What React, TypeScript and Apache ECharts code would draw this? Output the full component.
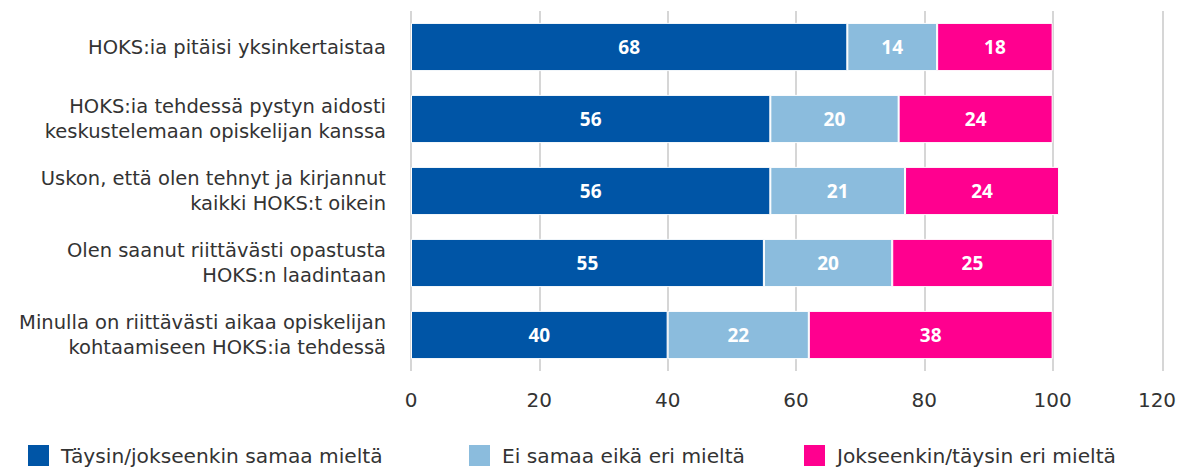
import React, { useEffect, useRef } from "react";
import * as echarts from "echarts";

const categories = [
  "HOKS:ia pitäisi yksinkertaistaa",
  "HOKS:ia tehdessä pystyn aidosti\nkeskustelemaan opiskelijan kanssa",
  "Uskon, että olen tehnyt ja kirjannut\nkaikki HOKS:t oikein",
  "Olen saanut riittävästi opastusta\nHOKS:n laadintaan",
  "Minulla on riittävästi aikaa opiskelijan\nkohtaamiseen HOKS:ia tehdessä",
];
const seriesNames = [
  "Täysin/jokseenkin samaa mieltä",
  "Ei samaa eikä eri mieltä",
  "Jokseenkin/täysin eri mieltä",
];
const agree = [68, 56, 56, 55, 40];
const neutral = [14, 20, 21, 20, 22];
const disagree = [18, 24, 24, 25, 38];
const xTickLabels = ["0", "20", "40", "60", "80", "100", "120"];
const colors = ["#0055a6", "#8bbcdd", "#ff008f"];

const FONT = "'DejaVu Sans', sans-serif";
const BOLD_FONT = "'Open Sans', sans-serif";
const TEXT_COLOR = "#333333";

export default function App() {
  const ref = useRef<HTMLDivElement>(null);
  useEffect(() => {
    document.body.style.margin = "0";
    if (!ref.current) return;
    const chart = echarts.init(ref.current, null, { renderer: "svg" });
    const values = [agree, neutral, disagree];
    const legendLefts = [26, 467, 802];
    chart.setOption({
      animation: false,
      textStyle: { fontFamily: FONT },
      grid: {
        left: 411,
        right: 16,
        top: 11,
        height: 360,
        containLabel: false,
        outerBoundsMode: "none",
      },
      legend: seriesNames.map((n, i) => ({
        data: [n],
        left: legendLefts[i],
        top: 443,
        padding: 0,
        itemWidth: 23,
        itemHeight: 23,
        itemGap: 0,
        icon: "rect",
        textStyle: { fontSize: 20.2, color: TEXT_COLOR, fontFamily: FONT, padding: [0, 0, 0, 6] },
      })),
      xAxis: {
        type: "value",
        min: 0,
        max: 117.2,
        interval: 20,
        axisLine: { show: false },
        axisTick: { show: false },
        splitLine: { show: true, lineStyle: { color: "#c9c9c9", width: 1.5 } },
        axisLabel: {
          fontSize: 20,
          color: TEXT_COLOR,
          fontFamily: FONT,
          margin: 19,
          showMaxLabel: true,
          formatter: (_v: number, idx: number) => {
            const t = xTickLabels[idx] ?? "";
            return idx === xTickLabels.length - 1 ? `{m|${t}}` : t;
          },
          rich: {
            m: { fontSize: 20, color: TEXT_COLOR, fontFamily: FONT, padding: [0, 12, 0, 0] },
          },
        },
      },
      yAxis: {
        type: "category",
        data: categories,
        inverse: true,
        axisLine: { show: false },
        axisTick: { show: false },
        axisLabel: {
          fontSize: 19.5,
          color: TEXT_COLOR,
          fontFamily: FONT,
          margin: 25,
          align: "right",
          lineHeight: 25,
        },
      },
      series: seriesNames.map((name, i) => ({
        name,
        type: "bar",
        stack: "total",
        data: values[i],
        barCategoryGap: "33%",
        itemStyle: { color: colors[i], borderColor: "#ffffff", borderWidth: 1 },
        label: {
          show: true,
          position: "inside",
          color: "#ffffff",
          fontWeight: "bold",
          fontSize: 19,
          fontFamily: BOLD_FONT,
        },
      })),
    });
    return () => chart.dispose();
  }, []);
  return <div ref={ref} style={{ width: 1179, height: 467 }} />;
}
